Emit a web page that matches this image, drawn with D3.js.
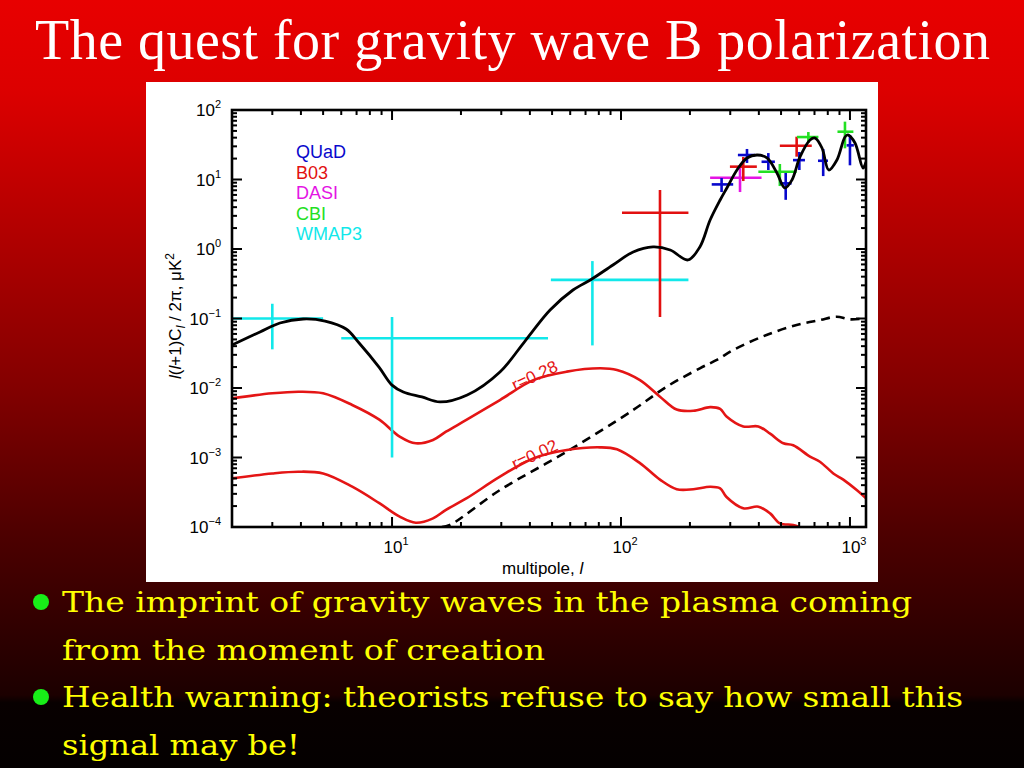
<!DOCTYPE html>
<html><head><meta charset="utf-8">
<script src="https://cdn.jsdelivr.net/npm/d3@7/dist/d3.min.js"></script>
<style>html,body{margin:0;padding:0;background:#000;overflow:hidden}</style>
</head><body>
<svg id="c" width="1024" height="768"></svg>
<script>
// ---------------- data ----------------
const titleText = "The quest for gravity wave B polarization";
const bulletLines = [
  "The imprint of gravity waves in the plasma coming",
  "from the moment of creation",
  "Health warning: theorists refuse to say how small this",
  "signal may be!"
];
const bulletStarts = [true, false, true, false];

const xTickExps = [1, 2, 3];
const yTickExps = [-4, -3, -2, -1, 0, 1, 2];

const legendNames = ["QUaD", "B03", "DASI", "CBI", "WMAP3"];

// total BB (black solid)
const blackL = [2, 2.65, 3.24, 4.09, 5.1, 6.3, 7.18, 8.77, 10, 11.2, 13.5, 16.2, 21.3, 29.6, 38.1, 49, 61.7, 74.6, 92.2, 113, 138, 164, 196, 221, 245, 271, 290, 321, 355, 393, 434, 480, 520, 558, 605, 669, 704, 755, 808, 877, 951, 980, 1052, 1141, 1175];
const blackV = [0.0416, 0.064, 0.0861, 0.0984, 0.092, 0.0706, 0.0444, 0.02, 0.011, 0.00875, 0.00743, 0.0063, 0.00793, 0.017, 0.0474, 0.1325, 0.257, 0.37, 0.589, 0.906, 1.07, 0.968, 0.695, 1.07, 2.61, 5.07, 7.55, 13.7, 20.4, 22.5, 20.4, 12.4, 7.55, 9.84, 21.1, 37, 39.5, 28.4, 13.7, 19.1, 40.9, 43.7, 33.5, 14.6, 17.9];

// r = 0.28 (red)
const r28L = [2, 3.0, 3.9, 5.0, 6.7, 8.8, 10.8, 12.7, 15.1, 17.2, 21.2, 29.6, 41.4, 58, 81, 96, 121, 148, 175, 207, 245, 271, 289, 342, 398, 448, 512, 565, 669, 739, 846, 935, 1070, 1175];
const r28V = [0.0071, 0.0084, 0.00885, 0.0084, 0.0057, 0.0035, 0.002, 0.0016, 0.00179, 0.00235, 0.0035, 0.0067, 0.013, 0.0172, 0.0192, 0.0182, 0.013, 0.0075, 0.0049, 0.0047, 0.0053, 0.005, 0.0039, 0.0028, 0.0028, 0.0022, 0.0016, 0.0015, 0.00103, 0.00087, 0.00059, 0.00048, 0.00034, 0.00026];

// r = 0.02 (red)
const r02L = [2, 3.0, 3.9, 5.0, 6.7, 8.8, 10.8, 12.7, 15.1, 17.2, 21.2, 29.6, 41.4, 58, 81, 96, 121, 148, 175, 207, 245, 271, 289, 342, 398, 448, 494, 565, 600];
const r02V = [0.0005, 0.00059, 0.000625, 0.00059, 0.00038, 0.00022, 0.000141, 0.000115, 0.000133, 0.000176, 0.00026, 0.00053, 0.00097, 0.00128, 0.0014, 0.00131, 0.00083, 0.00048, 0.00035, 0.00035, 0.00038, 0.00036, 0.00027, 0.000186, 0.000196, 0.000157, 0.000113, 0.000107, 0.0001];

// lensing (black dashed)
const lensL = [16.5, 17.9, 29.6, 57.9, 113, 158, 221, 262, 309, 432, 585, 739, 875, 1000, 1175];
const lensV = [0.0001, 0.000107, 0.00034, 0.00121, 0.00482, 0.0104, 0.0192, 0.0253, 0.0352, 0.058, 0.0805, 0.095, 0.106, 0.0973, 0.1007];

// experiments: centre, multipole range, value range
const quadL = [275, 355, 440, 524, 601, 764, 1000];
const quadLlo = [249, 324, 411, 494, 564, 725, 967];
const quadLhi = [309, 385, 470, 556, 636, 802, 1040];
const quadV = [8.5, 22.5, 18, 8.8, 19, 18.6, 31];
const quadVlo = [6.6, 17.3, 13.7, 5.1, 13.7, 11.2, 16];
const quadVhi = [10.5, 27.5, 24, 12.4, 24.9, 27.5, 43.7];

const b03L = [148, 342, 585];
const b03Llo = [101, 299, 494];
const b03Lhi = [197, 392, 681];
const b03V = [3.33, 15.3, 30.6];
const b03Vlo = [0.105, 9.5, 21.3];
const b03Vhi = [7.06, 21.1, 41.3];

const dasiL = [331];
const dasiLlo = [245];
const dasiLhi = [411];
const dasiV = [10.6];
const dasiVlo = [6.6];
const dasiVhi = [15.1];

const cbiL = [494, 658, 951];
const cbiLlo = [398, 587, 882];
const cbiLhi = [585, 728, 1035];
const cbiV = [12.9, 40.8, 48.7];
const cbiVlo = [8.05, 33.5, 28.1];
const cbiVhi = [16.7, 48.2, 68];

const wmapL = [3, 10, 75];
const wmapLlo = [2, 6, 49.4];
const wmapLhi = [5, 48, 197];
const wmapV = [0.10, 0.052, 0.36];
const wmapVlo = [0.036, 0.001, 0.041];
const wmapVhi = [0.163, 0.105, 0.67];

// ---------------- drawing ----------------
const colors = {QUaD: "#0808cc", B03: "#e21010", DASI: "#e414e4", CBI: "#22e022", WMAP3: "#12e8ea"};
const curveRed = "#e41515";

const svg = d3.select("#c");
const defs = svg.append("defs");
const grad = defs.append("linearGradient").attr("id", "bg")
  .attr("x1", 0).attr("y1", 0).attr("x2", 0).attr("y2", 1);
[[0, "#e80000"], [0.12, "#dc0000"], [0.3, "#b20000"], [0.5, "#840000"], [0.7, "#4c0000"],
 [0.82, "#300000"], [0.905, "#1c0000"], [0.915, "#080000"], [1, "#040000"]]
  .forEach(s => grad.append("stop").attr("offset", s[0]).attr("stop-color", s[1]));
svg.append("rect").attr("width", 1024).attr("height", 768).attr("fill", "url(#bg)");

// title
svg.append("text").attr("x", 35).attr("y", 59)
  .attr("font-family", "'Liberation Serif', 'Times New Roman', serif").attr("font-size", 56)
  .attr("fill", "#ffffff").attr("textLength", 955).attr("lengthAdjust", "spacing")
  .text(titleText);

// white panel
svg.append("rect").attr("x", 146).attr("y", 82).attr("width", 732).attr("height", 500).attr("fill", "#ffffff");

// bullets
const bulletY = [612, 660, 707, 755];
const bulletEnd = [912, 545, 963, 300];
bulletLines.forEach((t, i) => {
  svg.append("text").attr("x", 62).attr("y", bulletY[i])
    .attr("font-family", "'DejaVu Serif', serif").attr("font-size", 27)
    .attr("fill", "#ffff00").attr("textLength", bulletEnd[i] - 62).attr("lengthAdjust", "spacingAndGlyphs")
    .text(t);
  if (bulletStarts[i]) {
    svg.append("circle").attr("cx", 41).attr("cy", bulletY[i] - 10).attr("r", 8).attr("fill", "#18ee18");
  }
});

// scales
const L = 232, R = 866, T = 110, B = 527;
const x = d3.scaleLog().domain([2, 1175]).range([L, R]);
const y = d3.scaleLog().domain([1e-4, 1e2]).range([B, T]);

defs.append("clipPath").attr("id", "clip").append("rect")
  .attr("x", L).attr("y", T).attr("width", R - L).attr("height", B - T);

const plot = svg.append("g").attr("clip-path", "url(#clip)");
const line = d3.line().x(d => x(d[0])).y(d => y(d[1])).curve(d3.curveCatmullRom.alpha(0.5));

plot.append("path").datum(d3.zip(lensL, lensV)).attr("d", line)
  .attr("fill", "none").attr("stroke", "#000").attr("stroke-width", 2.6).attr("stroke-dasharray", "9,6");
plot.append("path").datum(d3.zip(r28L, r28V)).attr("d", line)
  .attr("fill", "none").attr("stroke", curveRed).attr("stroke-width", 2.6);
plot.append("path").datum(d3.zip(r02L, r02V)).attr("d", line)
  .attr("fill", "none").attr("stroke", curveRed).attr("stroke-width", 2.6);

// error bars
const sets = [
  ["WMAP3", wmapL, wmapLlo, wmapLhi, wmapV, wmapVlo, wmapVhi],
  ["DASI", dasiL, dasiLlo, dasiLhi, dasiV, dasiVlo, dasiVhi],
  ["B03", b03L, b03Llo, b03Lhi, b03V, b03Vlo, b03Vhi],
  ["CBI", cbiL, cbiLlo, cbiLhi, cbiV, cbiVlo, cbiVhi],
  ["QUaD", quadL, quadLlo, quadLhi, quadV, quadVlo, quadVhi]
];
sets.forEach(s => {
  const [name, l, llo, lhi, v, vlo, vhi] = s;
  const g = plot.append("g").attr("stroke", colors[name]).attr("stroke-width", 2.6);
  l.forEach((_, i) => {
    g.append("line").attr("x1", x(llo[i])).attr("x2", x(lhi[i])).attr("y1", y(v[i])).attr("y2", y(v[i]));
    g.append("line").attr("x1", x(l[i])).attr("x2", x(l[i])).attr("y1", y(vlo[i])).attr("y2", y(vhi[i]));
  });
});

plot.append("path").datum(d3.zip(blackL, blackV)).attr("d", line)
  .attr("fill", "none").attr("stroke", "#000").attr("stroke-width", 2.8);

// axes frame and ticks
const axG = svg.append("g").attr("stroke", "#000");
const xMinor = [], xMajor = [];
for (let k = 0; k <= 3; k++) for (let m = 1; m <= 9; m++) {
  const v = m * Math.pow(10, k);
  if (v >= 2 && v <= 1175) (m === 1 ? xMajor : xMinor).push(v);
}
const yMinor = [], yMajor = [];
for (let k = -4; k <= 2; k++) for (let m = 1; m <= 9; m++) {
  const v = m * Math.pow(10, k);
  if (v >= 1e-4 && v <= 100) (m === 1 ? yMajor : yMinor).push(v);
}
function ticksX(vals, len) {
  vals.forEach(v => {
    axG.append("line").attr("x1", x(v)).attr("x2", x(v)).attr("y1", B).attr("y2", B - len).attr("stroke-width", 2);
    axG.append("line").attr("x1", x(v)).attr("x2", x(v)).attr("y1", T).attr("y2", T + len).attr("stroke-width", 2);
  });
}
function ticksY(vals, len) {
  vals.forEach(v => {
    axG.append("line").attr("y1", y(v)).attr("y2", y(v)).attr("x1", L).attr("x2", L + len).attr("stroke-width", 2);
    axG.append("line").attr("y1", y(v)).attr("y2", y(v)).attr("x1", R).attr("x2", R - len).attr("stroke-width", 2);
  });
}
ticksX(xMinor, 5); ticksX(xMajor, 10);
ticksY(yMinor, 5); ticksY(yMajor, 10);
axG.append("rect").attr("x", L).attr("y", T).attr("width", R - L).attr("height", B - T)
  .attr("fill", "none").attr("stroke-width", 2.6);

const sans = "'Liberation Sans', Arial, Helvetica, sans-serif";
// y tick labels
yTickExps.forEach(e => {
  const t = svg.append("text").attr("x", 221).attr("y", y(Math.pow(10, e)) + 6)
    .attr("font-family", sans).attr("font-size", 17).attr("text-anchor", "end").attr("fill", "#000");
  t.append("tspan").text("10");
  t.append("tspan").attr("dy", -8).attr("font-size", 11).text(e < 0 ? "\u2212" + (-e) : String(e));
});
// x tick labels
xTickExps.forEach(e => {
  const t = svg.append("text").attr("x", x(Math.pow(10, e)) + 4).attr("y", 553)
    .attr("font-family", sans).attr("font-size", 17).attr("text-anchor", "middle").attr("fill", "#000");
  t.append("tspan").text("10");
  t.append("tspan").attr("dy", -8).attr("font-size", 11).text(String(e));
});

// x axis label
const xl = svg.append("text").attr("x", 502).attr("y", 574).attr("font-family", sans).attr("font-size", 17).attr("fill", "#000");
xl.append("tspan").text("multipole,  ");
xl.append("tspan").attr("font-style", "italic").text("l");

// y axis label
const yl = svg.append("text").attr("transform", "translate(181,316) rotate(-90)")
  .attr("text-anchor", "middle").attr("font-family", sans).attr("font-size", 17).attr("fill", "#000");
yl.append("tspan").attr("font-style", "italic").text("l");
yl.append("tspan").text("(");
yl.append("tspan").attr("font-style", "italic").text("l");
yl.append("tspan").text("+1)C");
yl.append("tspan").attr("font-style", "italic").attr("font-size", 12).attr("dy", 4).text("l");
yl.append("tspan").attr("dy", -4).text(" / 2\u03c0,  \u03bcK");
yl.append("tspan").attr("font-size", 12).attr("dy", -7).text("2");

// legend
legendNames.forEach((n, i) => {
  svg.append("text").attr("x", 296).attr("y", 158 + i * 20.5)
    .attr("font-family", sans).attr("font-size", 18).attr("fill", colors[n]).text(n);
});

// curve labels
[["r=0.28", 391], ["r=0.02", 470]].forEach(d => {
  svg.append("text").attr("transform", `translate(515,${d[1]}) rotate(-25)`)
    .attr("font-family", sans).attr("font-size", 17).attr("fill", curveRed).text(d[0]);
});
</script>
</body></html>
